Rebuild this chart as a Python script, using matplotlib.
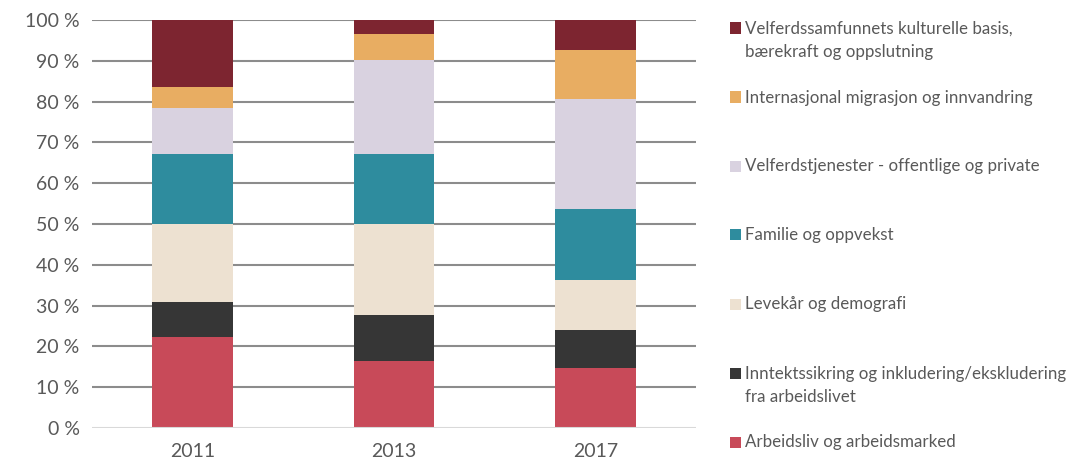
import matplotlib.pyplot as plt
from matplotlib.patches import Rectangle

# Share of projects per theme (percent), stacked bottom to top
YEARS = ["2011", "2013", "2017"]

THEMES = [
    "Arbeidsliv og arbeidsmarked",
    "Inntektssikring og inkludering/ekskludering\nfra arbeidslivet",
    "Levekår og demografi",
    "Familie og oppvekst",
    "Velferdstjenester - offentlige og private",
    "Internasjonal migrasjon og innvandring",
    "Velferdssamfunnets kulturelle basis,\nbærekraft og oppslutning",
]

arbeidsliv = [22.3, 16.4, 14.8]
inntektssikring = [8.7, 11.4, 9.3]
levekar = [18.9, 22.3, 12.2]
familie = [17.2, 17.1, 17.4]
velferdstjenester = [11.4, 23.0, 26.9]
migrasjon = [5.1, 6.3, 12.0]
kulturelle_basis = [16.4, 3.5, 7.4]

SERIES = [arbeidsliv, inntektssikring, levekar, familie,
          velferdstjenester, migrasjon, kulturelle_basis]

COLORS = ["#C84A59", "#363636", "#EDE1D1", "#2E8C9E",
          "#D9D2E0", "#E8AD62", "#7D2530"]

TEXT_COLOR = "#595959"
plt.rcParams["font.family"] = ["Lato", "DejaVu Sans"]

fig = plt.figure(figsize=(10.79, 4.68), dpi=100)
ax = fig.add_axes([0.0853, 0.0855, 0.5597, 0.8718])

x = range(len(YEARS))
bottom = [0.0] * len(YEARS)
for values, color in zip(SERIES, COLORS):
    ax.bar(x, values, width=0.4, bottom=bottom, color=color,
           edgecolor="none", zorder=3)
    bottom = [b + v for b, v in zip(bottom, values)]

ax.set_xlim(-0.5, len(YEARS) - 0.5)
ax.set_ylim(0, 100)
ax.set_yticks(range(0, 101, 10))
ax.set_yticklabels([f"{t} %" for t in range(0, 101, 10)])
ax.set_xticks(list(x))
ax.set_xticklabels(YEARS)

for t in range(10, 101, 10):
    ax.axhline(t, color="#8C8C8C", linewidth=1.5, zorder=1)
ax.axhline(0, color="#D9D9D9", linewidth=1.5, zorder=4)

for spine in ax.spines.values():
    spine.set_visible(False)
ax.tick_params(axis="both", length=0, colors=TEXT_COLOR, labelsize=14)
ax.tick_params(axis="y", pad=9)
ax.tick_params(axis="x", pad=11)

# Legend drawn by hand so the marker sits on the first line of wrapped labels
W, H = 1079.0, 468.0
first_center = 28.0
step = 69.0
for i, (label, color) in enumerate(zip(reversed(THEMES), reversed(COLORS))):
    cy = first_center + i * step
    fig.patches.append(Rectangle((730 / W, 1 - (cy + 5.5) / H), 11 / W, 11 / H,
                                 transform=fig.transFigure, facecolor=color,
                                 edgecolor="none"))
    for j, line in enumerate(label.split("\n")):
        fig.text(745 / W, 1 - (cy + 5.5 + j * 23) / H, line, fontsize=12.2,
                 color=TEXT_COLOR, va="baseline", ha="left")

fig.savefig("out.png", dpi=100)
